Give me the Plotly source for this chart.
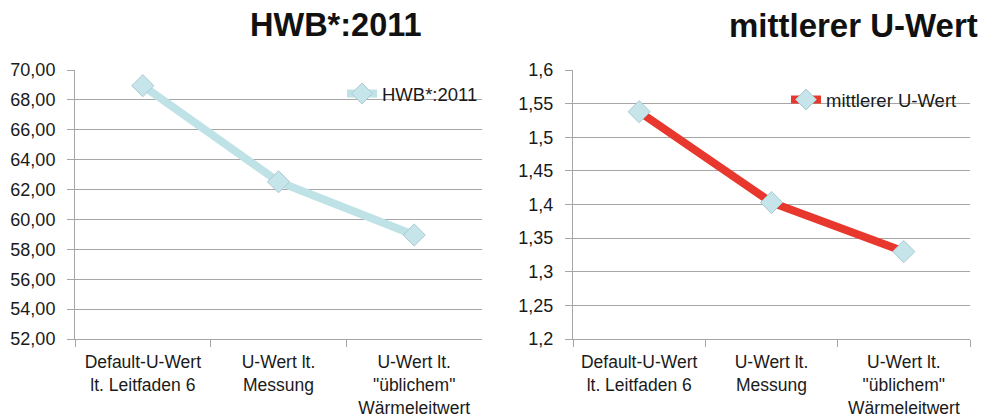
import plotly.graph_objects as go

categories = ["Default-U-Wert<br>lt. Leitfaden 6", "U-Wert lt.<br>Messung", "U-Wert lt.<br>\"üblichem\"<br>Wärmeleitwert"]
hwb_values = [68.95, 62.52, 58.96]
u_values = [1.538, 1.403, 1.330]
hwb_name = "HWB*:2011"
u_name = "mittlerer U-Wert"

W, H = 984, 416
FONT = "Liberation Sans, Arial, sans-serif"
GRID = "#a6a6a6"
TEXT = "#1a1a1a"
MARKER = dict(symbol="diamond", size=17, color="#c6e5ea", line=dict(color="#a9c9d0", width=1))

fig = go.Figure()
fig.add_trace(go.Scatter(
    x=categories, y=hwb_values, name=hwb_name, mode="lines+markers",
    line=dict(color="#bfe2e6", width=8), marker=MARKER, showlegend=True,
    xaxis="x", yaxis="y", legend="legend",
))
fig.add_trace(go.Scatter(
    x=categories, y=u_values, name=u_name, mode="lines+markers",
    line=dict(color="#e8372c", width=8), marker=MARKER, showlegend=True,
    xaxis="x2", yaxis="y2", legend="legend2",
))

def px_x(p):
    return p / W

def px_y(p):
    return 1 - p / H

xaxis_common = dict(
    type="category", range=[-0.5, len(categories) - 0.5],
    showgrid=False, showline=True, linecolor=GRID, linewidth=1,
    ticks="outside", tickson="boundaries", ticklen=7, tickcolor=GRID,
    ticklabelstandoff=7, automargin=False,
    tickfont=dict(family=FONT, size=17.5, color=TEXT), fixedrange=True,
)
yaxis_common = dict(
    showgrid=True, gridcolor=GRID, gridwidth=1, showline=True, linecolor=GRID,
    linewidth=1, ticks="outside", ticklen=7, tickcolor=GRID, zeroline=False,
    ticklabelstandoff=8, automargin=False,
    tickfont=dict(family=FONT, size=18, color=TEXT), fixedrange=True,
)

legend_common = dict(
    bgcolor="rgba(0,0,0,0)", font=dict(family=FONT, size=18.5, color=TEXT),
    xanchor="left", yanchor="middle", itemwidth=30, tracegroupgap=0, visible=True,
)

fig.update_layout(
    width=W, height=H, margin=dict(l=0, r=0, t=0, b=0, autoexpand=False),
    paper_bgcolor="white", plot_bgcolor="white", separators=",.", showlegend=True,
    xaxis=dict(domain=[px_x(75), px_x(482)], anchor="y", **xaxis_common),
    yaxis=dict(domain=[px_y(339), px_y(70)], anchor="x", range=[52, 70], dtick=2,
               tickformat=".2f", **yaxis_common),
    xaxis2=dict(domain=[px_x(573), px_x(970)], anchor="y2", **xaxis_common),
    yaxis2=dict(domain=[px_y(339), px_y(70)], anchor="x2", range=[1.2, 1.6], dtick=0.05,
                **yaxis_common),
    legend=dict(x=px_x(342), y=px_y(94), **legend_common),
    legend2=dict(x=px_x(786), y=px_y(100), **legend_common),
    annotations=[
        dict(text="<b>" + hwb_name + "</b>", x=px_x(336), y=px_y(25), xref="paper", yref="paper",
             xanchor="center", yanchor="middle", showarrow=False,
             font=dict(family=FONT, size=32.5, color="#111111")),
        dict(text="<b>" + u_name + "</b>", x=px_x(853), y=px_y(25), xref="paper", yref="paper",
             xanchor="center", yanchor="middle", showarrow=False,
             font=dict(family=FONT, size=33, color="#111111")),
    ],
)

fig.write_html("out.html")
